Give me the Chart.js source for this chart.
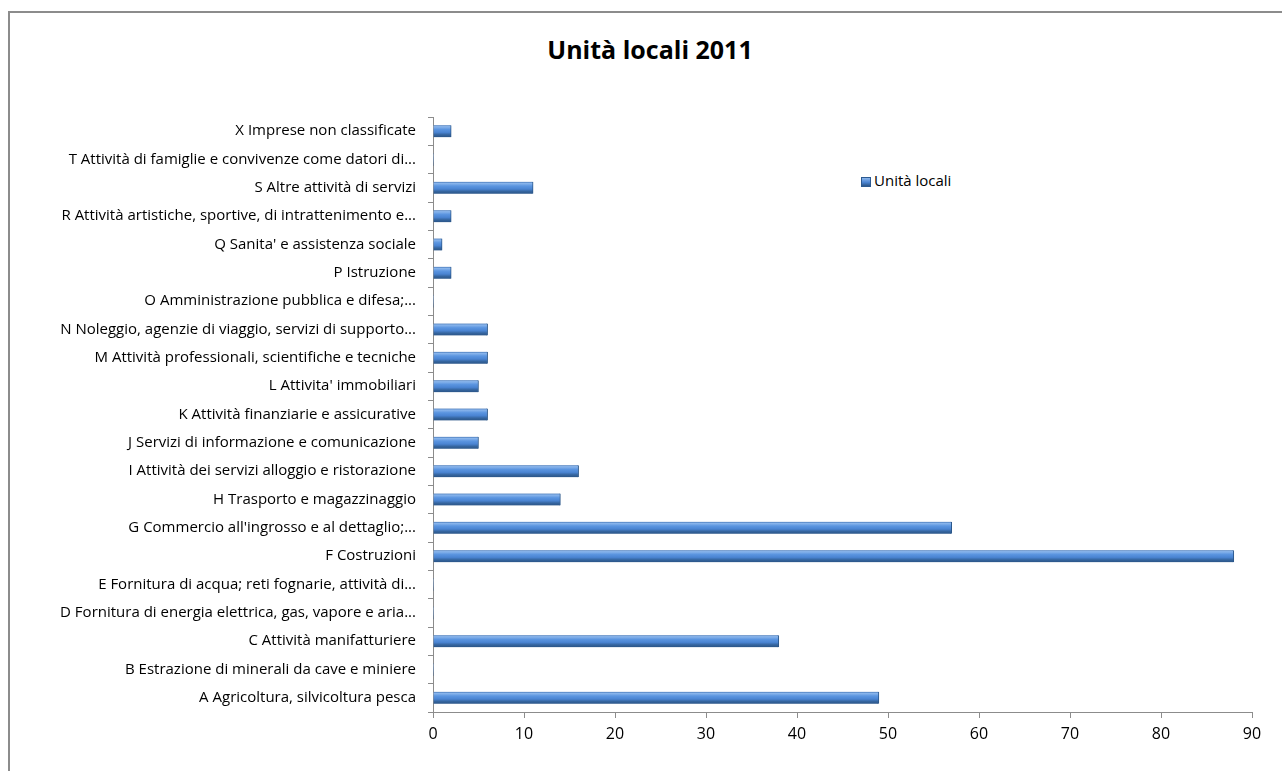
<!DOCTYPE html>
<html>
<head>
<meta charset="utf-8">
<script src="https://cdn.jsdelivr.net/npm/chart.js@4"></script>
<style>
  html, body { margin: 0; padding: 0; background: #fff; overflow: hidden; }
  #wrap { position: relative; width: 1282px; height: 771px; }
  #frame { position: absolute; left: 8px; top: 11px; width: 1300px; height: 800px;
           border-left: 2px solid #8c8c8c; border-top: 2px solid #8c8c8c; }
  #title { position: absolute; left: 0; width: 1300px; top: 32px; text-align: center;
           font: bold 25px "Open Sans", sans-serif; color: #000; }
  #legend { position: absolute; left: 861px; top: 170px; font: 15px "Open Sans", sans-serif; color: #000; }
  #legend span.box { display: inline-block; width: 10px; height: 10px; margin-right: 3px; vertical-align: -1px;
           background: linear-gradient(#8bb6ec, #4a84d2 55%, #2b5587); border: 1px solid #2c5a91; box-sizing: border-box; }
  canvas { position: absolute; left: 0; top: 0; }
</style>
</head>
<body>
<div id="wrap">
  <div id="frame"></div>
  <div id="title">Unità locali 2011</div>
  <div id="legend"><span class="box"></span>Unità locali</div>
  <canvas id="chart" width="1282" height="771"></canvas>
</div>
<script>
// categories, bottom (A) to top (X)
const categories = [
  "A Agricoltura, silvicoltura pesca",
  "B Estrazione di minerali da cave e miniere",
  "C Attività manifatturiere",
  "D Fornitura di energia elettrica, gas, vapore e aria...",
  "E Fornitura di acqua; reti fognarie, attività di...",
  "F Costruzioni",
  "G Commercio all'ingrosso e al dettaglio;...",
  "H Trasporto e magazzinaggio",
  "I Attività dei servizi alloggio e ristorazione",
  "J Servizi di informazione e comunicazione",
  "K Attività finanziarie e assicurative",
  "L Attivita' immobiliari",
  "M Attività professionali, scientifiche e tecniche",
  "N Noleggio, agenzie di viaggio, servizi di supporto...",
  "O Amministrazione pubblica e difesa;...",
  "P Istruzione",
  "Q Sanita' e assistenza sociale",
  "R Attività artistiche, sportive, di intrattenimento e...",
  "S Altre attività di servizi",
  "T Attività di famiglie e convivenze come datori di...",
  "X Imprese non classificate"
];
const unitaLocali = [49, 0, 38, 0, 0, 88, 57, 14, 16, 5, 6, 5, 6, 6, 0, 2, 1, 2, 11, 0, 2];
const xTicks = [0, 10, 20, 30, 40, 50, 60, 70, 80, 90];

const BAR_H = 12;

function barGradient(ctx) {
  const chart = ctx.chart;
  const y = chart.scales && chart.scales.y;
  if (!chart.chartArea || !y || ctx.dataIndex === undefined) return "#4a84d2";
  const c = y.getPixelForValue(ctx.dataIndex);
  const g = chart.ctx.createLinearGradient(0, c - BAR_H / 2, 0, c + BAR_H / 2);
  g.addColorStop(0, "#3f72b4");
  g.addColorStop(0.12, "#8bb6ec");
  g.addColorStop(0.35, "#5b95e0");
  g.addColorStop(0.6, "#4a84d2");
  g.addColorStop(0.8, "#35659f");
  g.addColorStop(1, "#2b5587");
  return g;
}

new Chart(document.getElementById("chart"), {
  type: "bar",
  data: {
    labels: categories,
    datasets: [{
      label: "Unità locali",
      data: unitaLocali,
      backgroundColor: barGradient,
      borderColor: "#2a5689",
      borderWidth: { top: 0, left: 0, right: 1, bottom: 0 },
      barThickness: BAR_H
    }]
  },
  options: {
    indexAxis: "y",
    responsive: false,
    animation: false,
    layout: { padding: { top: 117, right: 30, left: 0, bottom: 0 } },
    plugins: {
      legend: { display: false },
      title: { display: false },
      tooltip: { enabled: false }
    },
    scales: {
      y: {
        reverse: true,
        afterFit: (s) => { s.width = 433; },
        grid: { offset: true, drawOnChartArea: false, color: "#8c8c8c", tickLength: 5 },
        border: { color: "#8c8c8c" },
        ticks: { color: "#000", font: { family: "Open Sans", size: 15 }, padding: 12, autoSkip: false }
      },
      x: {
        min: 0,
        max: 90,
        afterBuildTicks: (s) => { s.ticks = xTicks.map(v => ({ value: v })); },
        afterFit: (s) => { s.height = 59; },
        grid: { drawOnChartArea: false, color: "#8c8c8c", tickLength: 6 },
        border: { color: "#8c8c8c" },
        ticks: { color: "#000", font: { family: "Open Sans", size: 16 }, padding: 7 }
      }
    }
  }
});
</script>
</body>
</html>
